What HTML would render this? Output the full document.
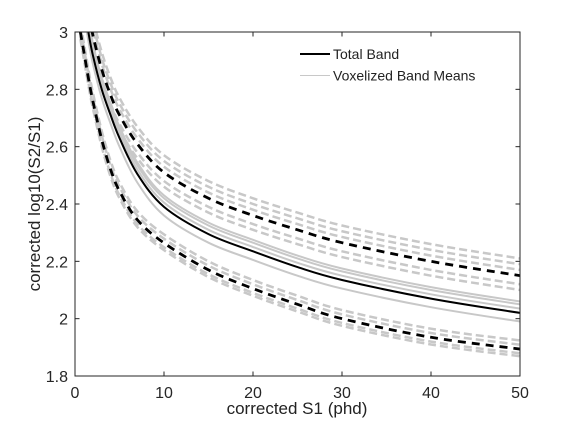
<!DOCTYPE html>
<html><head><meta charset="utf-8">
<style>
body{margin:0;background:#fff;}
svg{display:block;font-family:"Liberation Sans",Arial,sans-serif;}
</style></head>
<body>
<svg id="chart" width="576" height="432" viewBox="0 0 576 432" xmlns="http://www.w3.org/2000/svg">
<defs><clipPath id="clip"><rect x="75" y="32" width="445" height="344"/></clipPath></defs>
<rect width="576" height="432" fill="#fff"/>
<g id="plot" clip-path="url(#clip)"></g>
<g id="axes"></g>
<g>
<line x1="300" y1="54" x2="330" y2="54" stroke="#000" stroke-width="2"/>
<text x="333" y="59" font-size="14" fill="#222">Total Band</text>
<line x1="300" y1="75.5" x2="330" y2="75.5" stroke="#c8c8c8" stroke-width="1"/>
<text x="333" y="80.5" font-size="14" fill="#222">Voxelized Band Means</text>
</g>
<text x="297" y="414" font-size="17" text-anchor="middle" fill="#222">corrected S1 (phd)</text>
<text transform="translate(40,204) rotate(-90)" font-size="17" text-anchor="middle" fill="#222">corrected log10(S2/S1)</text>
</svg>
<script>
const xs = [0.6,1,1.5,2,3,4,5,7,10,15,20,25,30,40,50];
const meanBand = [3.25,3.1,3.0,2.92,2.80,2.71,2.63,2.505,2.39,2.295,2.235,2.18,2.135,2.07,2.02];
const upperBand = [3.4,3.2,3.08,2.99,2.87,2.78,2.71,2.61,2.51,2.42,2.36,2.31,2.265,2.2,2.15];
const lowerBand = [3.0,2.93,2.84,2.76,2.625,2.52,2.445,2.345,2.264,2.17,2.105,2.05,2.0,1.935,1.894];
const greyMeanOffsets = [0.03,0.04,-0.03,0.015];
const greyUpperOffsets = [0.06,0.04,0.02,-0.03,-0.05];
const greyLowerOffsets = [0.03,0.015,-0.015,-0.025];
const xTicks = [0,10,20,30,40,50];
const yTicks = [1.8,2,2.2,2.4,2.6,2.8,3];
const yTickLabels = ["1.8","2","2.2","2.4","2.6","2.8","3"];

const L=75,R=520,T=32,B=376;
const sx=v=>L+(v-0)/(50-0)*(R-L);
const sy=v=>B-(v-1.8)/(3-1.8)*(B-T);
const NS="http://www.w3.org/2000/svg";
const plot=document.getElementById('plot'), axes=document.getElementById('axes');

function pathD(vals){
  const p=xs.map((x,i)=>[sx(x),sy(vals[i])]);
  let d=`M${p[0][0]},${p[0][1]}`;
  for(let i=0;i<p.length-1;i++){
    const p0=p[Math.max(0,i-1)],p1=p[i],p2=p[i+1],p3=p[Math.min(p.length-1,i+2)];
    const c1x=p1[0]+(p2[0]-p0[0])/6,c1y=p1[1]+(p2[1]-p0[1])/6;
    const c2x=p2[0]-(p3[0]-p1[0])/6,c2y=p2[1]-(p3[1]-p1[1])/6;
    d+=` C${c1x},${c1y} ${c2x},${c2y} ${p2[0]},${p2[1]}`;
  }
  return d;
}
function addLine(vals,stroke,w,dash,name){
  const el=document.createElementNS(NS,'path');
  el.setAttribute('d',pathD(vals));
  el.setAttribute('fill','none');
  el.setAttribute('stroke',stroke);
  el.setAttribute('stroke-width',w);
  if(dash) el.setAttribute('stroke-dasharray',dash);
  
  
  plot.appendChild(el);
}
greyUpperOffsets.forEach(o=>addLine(upperBand.map(v=>v+o),'#c8c8c8',2.5,'8 4','voxel-upper-grey-line'));
greyLowerOffsets.forEach(o=>addLine(lowerBand.map(v=>v+o),'#c8c8c8',2.5,'8 4','voxel-lower-grey-line'));
greyMeanOffsets.forEach(o=>addLine(meanBand.map(v=>v+o),'#c8c8c8',2,null,'voxel-mean-grey-line'));
addLine(upperBand,'#000',2.8,'8 6','total-upper-dashed');
addLine(lowerBand,'#000',2.8,'8 6','total-lower-dashed');
addLine(meanBand,'#000',2,null,'total-mean-line');

const box=document.createElementNS(NS,'rect');
box.setAttribute('x',L);box.setAttribute('y',T);box.setAttribute('width',R-L);box.setAttribute('height',B-T);
box.setAttribute('fill','none');box.setAttribute('stroke','#262626');box.setAttribute('stroke-width','1');


axes.appendChild(box);
function tick(x1,y1,x2,y2){
  const t=document.createElementNS(NS,'line');
  t.setAttribute('x1',x1);t.setAttribute('y1',y1);t.setAttribute('x2',x2);t.setAttribute('y2',y2);
  t.setAttribute('stroke','#262626');
  
  
  axes.appendChild(t);
}
function label(x,y,txt,anchor,name){
  const t=document.createElementNS(NS,'text');
  t.setAttribute('x',x);t.setAttribute('y',y);t.setAttribute('font-size','16');
  t.setAttribute('text-anchor',anchor);t.setAttribute('fill','#262626');
  t.textContent=txt;
  
  
  axes.appendChild(t);
}
xTicks.forEach(v=>{const x=sx(v);tick(x,B,x,B-4.5);tick(x,T,x,T+4.5);label(x,B+22,String(v),'middle','x-tick-label');});
yTicks.forEach((v,i)=>{const y=sy(v);tick(L,y,L+4.5,y);tick(R,y,R-4.5,y);label(L-7,y+6,yTickLabels[i],'end','y-tick-label');});
</script>
</body></html>
